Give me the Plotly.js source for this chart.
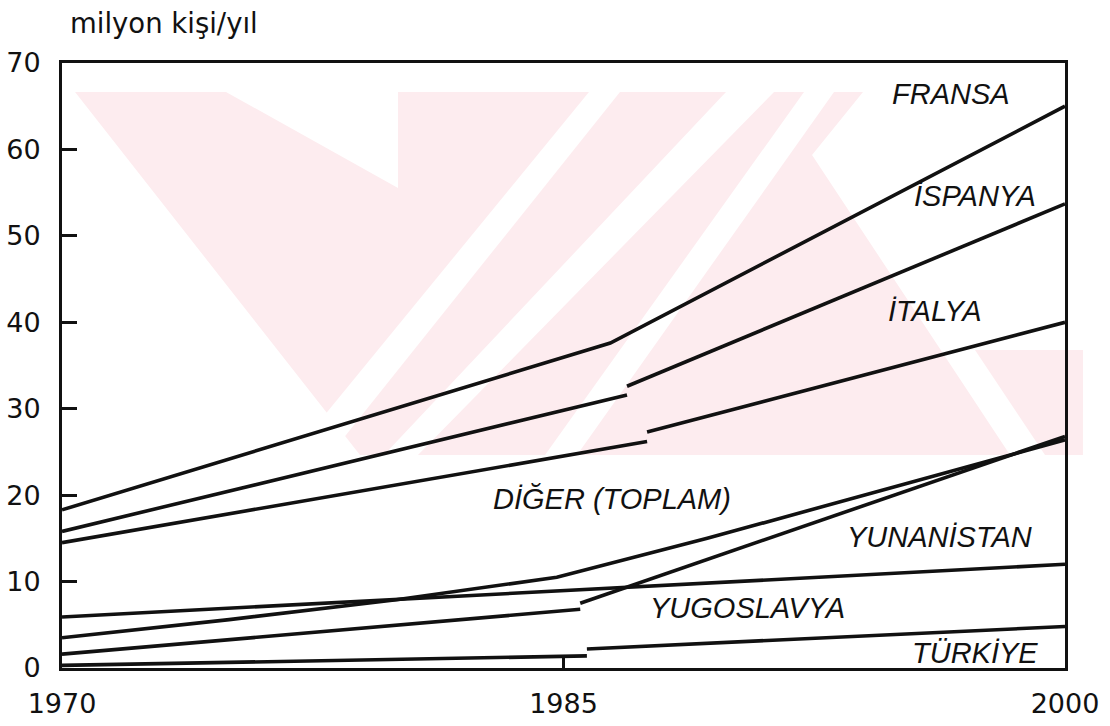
<!DOCTYPE html>
<html>
<head>
<meta charset="utf-8">
<script src="https://cdn.plot.ly/plotly-3.0.1.min.js"></script>
<style>
  html, body { margin: 0; padding: 0; background: #ffffff; }
  #chart { width: 1110px; height: 726px; }
</style>
</head>
<body>
<div id="chart"></div>
<script>
// ---- data ----
const xTicks = [1970, 1985, 2000];
const xTickText = ["1970", "1985", "2000"];
const yTicks = [0, 10, 20, 30, 40, 50, 60, 70];

// each line; null separates the two pieces of a broken line
const fransaYears  = [1970, 1986.4, 2000];
const fransaVals   = [18.3, 37.6, 65.0];
const ispanyaYears = [1970, 1986.9, null, 1986.9, 2000];
const ispanyaVals  = [15.8, 31.6, null, 32.6, 53.7];
const italyaYears  = [1970, 1987.5, null, 1987.5, 2000];
const italyaVals   = [14.5, 26.2, null, 27.3, 40.0];
const yunanYears   = [1970, 1975, 1980, 1984.8, 1989.3, 2000];
const yunanVals    = [3.5, 5.6, 7.9, 10.5, 15.0, 26.4];
const digerYears   = [1970, 2000];
const digerVals    = [5.9, 12.0];
const yugoYears    = [1970, 1985.5, null, 1985.5, 2000];
const yugoVals     = [1.6, 6.8, null, 7.5, 26.8];
const turkYears    = [1970, 1985.7, null, 1985.7, 2000];
const turkVals     = [0.3, 1.4, null, 2.2, 4.8];

const labelTexts = ["FRANSA", "İSPANYA", "İTALYA", "DİĞER (TOPLAM)", "YUNANİSTAN", "YUGOSLAVYA", "TÜRKİYE"];
const labelYears = [1996.6, 1997.3, 1996.1, 1986.45, 1996.25, 1990.5, 1997.3];
const labelVals  = [66.4, 54.6, 41.3, 19.6, 15.1, 7.0, 1.75];

// ---- drawing ----
const lineStyle = { color: "#111111", width: 3.6 };
function tr(x, y) {
  return { x: x, y: y, type: "scatter", mode: "lines", line: lineStyle,
           connectgaps: false, hoverinfo: "skip", showlegend: false };
}
const traces = [
  tr(fransaYears, fransaVals),
  tr(ispanyaYears, ispanyaVals),
  tr(italyaYears, italyaVals),
  tr(yunanYears, yunanVals),
  tr(digerYears, digerVals),
  tr(yugoYears, yugoVals),
  tr(turkYears, turkVals)
];

const annotations = labelTexts.map((t, i) => ({
  x: labelYears[i], y: labelVals[i], xref: "x", yref: "y",
  text: t, showarrow: false,
  font: { family: "Liberation Sans, Arial, sans-serif", size: 29, color: "#111111", style: "italic" },
  xanchor: "center", yanchor: "middle"
}));
annotations.push({
  xref: "paper", yref: "paper", x: 0.006, y: 1.066, xanchor: "left", yanchor: "middle",
  text: "milyon kişi/yıl", showarrow: false,
  font: { family: "DejaVu Sans", size: 27.5, color: "#111111" }
});

// faint background watermark (pixel outline -> paper coords)
const L = 62, R = 1065, T = 63, B = 668;
function P(px, py) { return ((px - L) / (R - L)).toFixed(4) + "," + ((B - py) / (B - T)).toFixed(4); }
function poly(pts) { return "M" + pts.map(p => P(p[0], p[1])).join("L") + "Z"; }
const pink = "rgb(253,236,239)";
const wm = [
  [[75,92],[863,92],[812,155],[1010,455],[360,455]],
  [[975,350],[1083,350],[1083,455],[1045,455]]
];
const whites = [
  [[226,92],[398,92],[398,188]],
  [[589,92],[620,92],[330,455],[292,455]],
  [[726,92],[774,92],[418,455],[384,455]],
  [[804,92],[834,92],[577,455],[545,455]]
];
const shapes = [];
wm.forEach(p => shapes.push({ type: "path", xref: "paper", yref: "paper", path: poly(p),
  fillcolor: pink, line: { width: 0 }, layer: "below" }));
whites.forEach(p => shapes.push({ type: "path", xref: "paper", yref: "paper", path: poly(p),
  fillcolor: "#ffffff", line: { width: 0 }, layer: "below" }));

const layout = {
  width: 1110, height: 726,
  margin: { l: L, r: 1110 - R, t: T, b: 726 - B, pad: 0 },
  paper_bgcolor: "#ffffff", plot_bgcolor: "rgba(0,0,0,0)",
  showlegend: false,
  xaxis: {
    range: [1970, 2000], tickvals: xTicks, ticktext: xTickText,
    ticks: "inside", ticklen: 10, tickwidth: 3, tickcolor: "#111111",
    showline: true, linewidth: 3, linecolor: "#111111", mirror: true,
    showgrid: false, zeroline: false, ticklabelstandoff: 10,
    tickfont: { family: "DejaVu Sans", size: 27, color: "#111111" }
  },
  yaxis: {
    range: [0, 70], tickvals: yTicks,
    ticks: "inside", ticklen: 15, tickwidth: 3, tickcolor: "#111111",
    showline: true, linewidth: 3, linecolor: "#111111", mirror: true,
    showgrid: false, zeroline: false, ticklabelstandoff: 13,
    tickfont: { family: "DejaVu Sans", size: 27, color: "#111111" }
  },
  annotations: annotations,
  shapes: shapes
};

Plotly.newPlot("chart", traces, layout, { staticPlot: true, displayModeBar: false });
</script>
</body>
</html>
